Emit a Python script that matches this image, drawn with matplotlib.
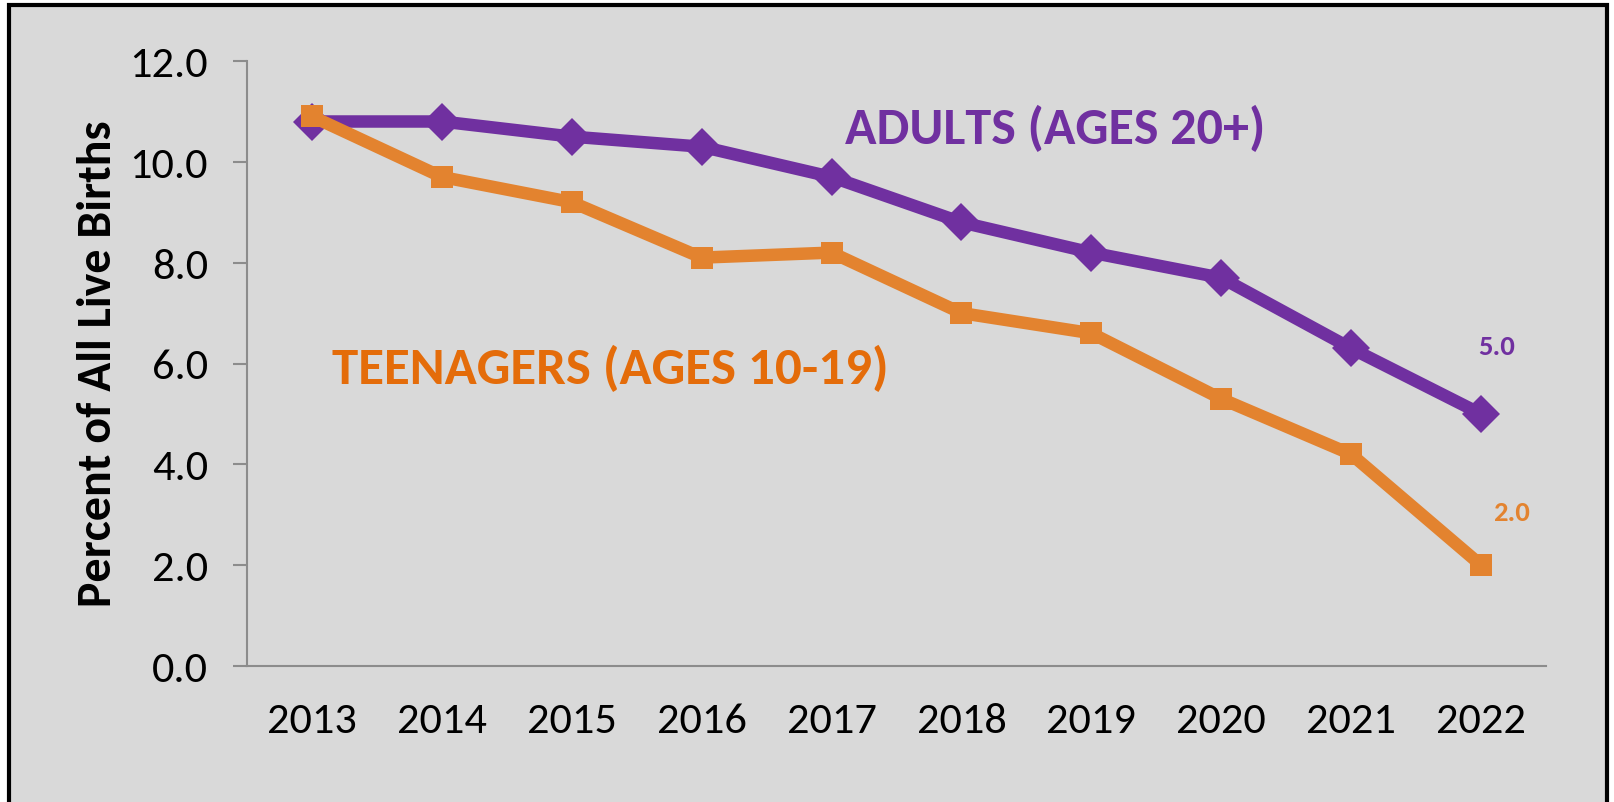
import matplotlib
matplotlib.use("Agg")
import matplotlib.pyplot as plt
from matplotlib import font_manager
from matplotlib.patches import Rectangle

years = ["2013", "2014", "2015", "2016", "2017", "2018", "2019", "2020", "2021", "2022"]
adults = [10.8, 10.8, 10.5, 10.3, 9.7, 8.8, 8.2, 7.7, 6.3, 5.0]
teens = [10.9, 9.7, 9.2, 8.1, 8.2, 7.0, 6.6, 5.3, 4.2, 2.0]
y_ticks = [0.0, 2.0, 4.0, 6.0, 8.0, 10.0, 12.0]

adult_label = "ADULTS (AGES 20+)"
teen_label = "TEENAGERS (AGES 10-19)"
y_title = "Percent of All Live Births"

PURPLE = "#7030A0"
ORANGE = "#E3832F"
ORANGE_TXT = "#E46C0A"
BG = "#D9D9D9"
AXC = "#8C8C8C"

avail = {f.name for f in font_manager.fontManager.ttflist}
fam = [f for f in ["Carlito", "Lato", "Open Sans", "DejaVu Sans"] if f in avail]
plt.rcParams["font.family"] = fam

W, H, DPI = 1614, 803, 100
fig = plt.figure(figsize=(W / DPI, H / DPI), dpi=DPI, facecolor="white")

# background panel with black border
fig.patches.append(Rectangle((9 / W, -0.05), (1607 - 9) / W, 1.05 - 6 / H,
                             transform=fig.transFigure, facecolor=BG,
                             edgecolor="black", linewidth=3, zorder=-10))

ax = fig.add_axes([247 / W, 136 / H, (1546 - 247) / W, (741 - 136) / H])
ax.set_zorder(5)
ax.set_facecolor("none")
x = list(range(len(years)))

ax.plot(x, adults, color=PURPLE, lw=9, marker="D", ms=19, mew=0,
        solid_joinstyle="miter", zorder=3, clip_on=False)
ax.plot(x, teens, color=ORANGE, lw=9, marker="s", ms=15.6, mew=0,
        solid_joinstyle="miter", zorder=4, clip_on=False)

ax.set_xlim(-0.5, len(years) - 0.5)
ax.set_ylim(0, 12)
ax.set_xticks(x)
ax.set_xticklabels(years)
ax.set_yticks(y_ticks)
ax.set_yticklabels([f"{v:.1f}" for v in y_ticks])
for s in ["top", "right"]:
    ax.spines[s].set_visible(False)
for s in ["left", "bottom"]:
    ax.spines[s].set_color(AXC)
    ax.spines[s].set_linewidth(1.5)
ax.tick_params(axis="y", length=10, width=1.5, color=AXC, pad=18, direction="out")
ax.tick_params(axis="x", length=0, pad=26)


def fit(t, target_w):
    fig.canvas.draw()
    r = fig.canvas.get_renderer()
    bb = t.get_window_extent(r)
    w = bb.width if t.get_rotation() == 0 else bb.height
    t.set_fontsize(t.get_fontsize() * target_w / w)


for t in ax.get_xticklabels() + ax.get_yticklabels():
    t.set_fontsize(24)
    t.set_color("black")

ylab = ax.set_ylabel(y_title, fontsize=28, fontweight="bold", color="black",
                     va="center")
ax.yaxis.set_label_coords(98 / W, (803 - 364) / H, transform=fig.transFigure)

t_ad = fig.text(1055 / W, (803 - 128) / H, adult_label, color=PURPLE, fontsize=32,
                fontweight="bold", ha="center", va="center")
t_te = fig.text(610 / W, (803 - 368) / H, teen_label, color=ORANGE_TXT, fontsize=32,
                fontweight="bold", ha="center", va="center")
t5 = fig.text(1497 / W, (803 - 347) / H, f"{adults[-1]:.1f}", color=PURPLE, fontsize=16,
              fontweight="bold", ha="center", va="center")
t2 = fig.text(1511 / W, (803 - 513) / H, f"{teens[-1]:.1f}", color=ORANGE, fontsize=16,
              fontweight="bold", ha="center", va="center")

fit(ax.get_xticklabels()[0], 90)
fs = ax.get_xticklabels()[0].get_fontsize()
for t in ax.get_xticklabels() + ax.get_yticklabels():
    t.set_fontsize(fs)
fit(ylab, 485)
fit(t_ad, 420)
fit(t_te, 557)
fit(t5, 37)
t2.set_fontsize(t5.get_fontsize())

fig.savefig("out.png", dpi=DPI, facecolor="white")
